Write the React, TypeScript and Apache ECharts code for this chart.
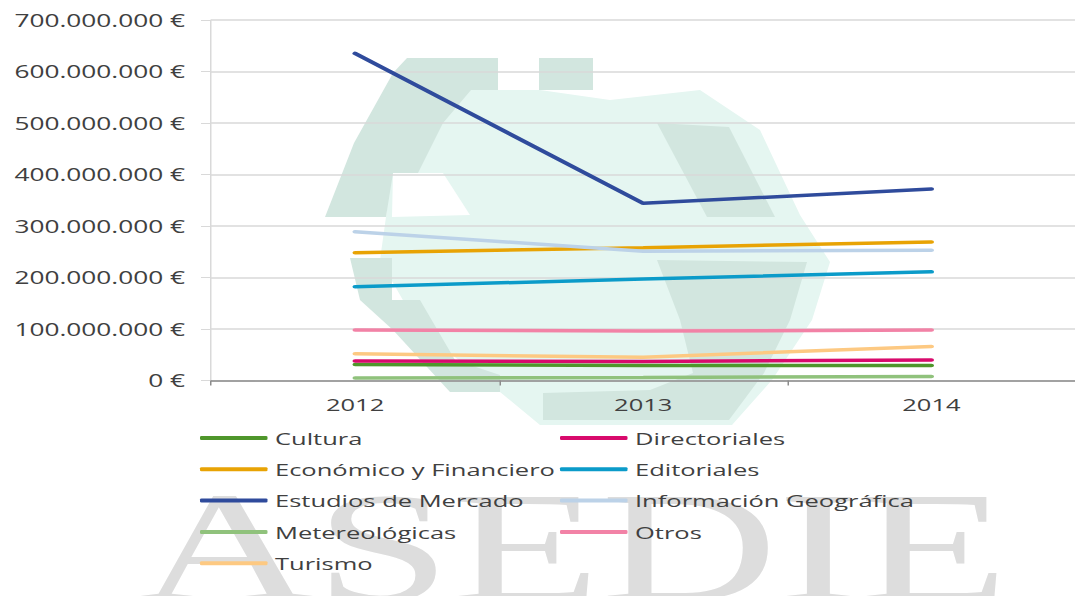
import React, { useEffect, useRef } from "react";
import * as echarts from "echarts";

const years = ["2012", "2013", "2014"];
const cultura = [31000000, 29000000, 29000000];
const directoriales = [38000000, 37000000, 40000000];
const economico = [248000000, 258000000, 269000000];
const editoriales = [182000000, 197000000, 211000000];
const estudios = [635000000, 344000000, 372000000];
const infoGeo = [289000000, 251000000, 253000000];
const meteo = [5000000, 6000000, 8000000];
const otros = [98000000, 96000000, 98000000];
const turismo = [52000000, 45000000, 66000000];

const seriesNames = [
  "Cultura",
  "Directoriales",
  "Económico y Financiero",
  "Editoriales",
  "Estudios de Mercado",
  "Información Geográfica",
  "Metereológicas",
  "Otros",
  "Turismo",
];
const seriesData = [cultura, directoriales, economico, editoriales, estudios, infoGeo, meteo, otros, turismo];
const seriesColors = ["#4f962b", "#d80a6c", "#e8a304", "#0b9bc9", "#2f4b9c", "#bcd2e8", "#90c27c", "#f282a6", "#fdc982"];
const legendCol1 = ["Cultura", "Económico y Financiero", "Estudios de Mercado", "Metereológicas", "Turismo"];
const legendCol2 = ["Directoriales", "Editoriales", "Información Geográfica", "Otros"];

const S = 1.5; // horizontal stretch of the whole picture
const W = 1075 / S;
const H = 596;
const FONT = "'Open Sans', sans-serif";

const fmt = (v: number) => String(v).replace(/\B(?=(\d{3})+(?!\d))/g, ".") + " €";

const pts = (a: number[][]) => a.map(([x, y]) => [x / S, y]);

export default function App() {
  const ref = useRef<HTMLDivElement>(null);
  useEffect(() => {
    if (!ref.current) return;
    const chart = echarts.init(ref.current, undefined, { renderer: "svg" });
    const dark = "#d2e6df";
    const light = "#e5f6f1";
    const legendBase = {
      orient: "vertical",
      top: 428,
      padding: 0,
      itemWidth: 45,
      itemHeight: 4,
      itemGap: 11.3,
      icon: "roundRect",
      textStyle: { fontSize: 17, lineHeight: 20, color: "#404040", fontFamily: FONT },
    };
    chart.setOption({
      animation: false,
      backgroundColor: "#ffffff",
      graphic: [
        { type: "polygon", z: -10, shape: { points: pts([[400, 90], [540, 90], [610, 100], [700, 90], [760, 130], [800, 215], [830, 262], [812, 320], [772, 380], [732, 425], [540, 425], [500, 392], [420, 330], [380, 260], [386, 217]]) }, style: { fill: light } },
        { type: "polygon", z: -9, shape: { points: pts([[393, 173], [443, 173], [470, 215], [392, 217]]) }, style: { fill: "#ffffff" } },
        { type: "polygon", z: -8, shape: { points: pts([[325, 217], [354, 143], [393, 73], [407, 58], [498, 58], [498, 90], [471, 90], [443, 123], [418, 173], [393, 173], [386, 217]]) }, style: { fill: dark } },
        { type: "rect", z: -8, shape: { x: 539 / S, y: 58, width: 54 / S, height: 32 }, style: { fill: dark } },
        { type: "polygon", z: -8, shape: { points: pts([[657, 123], [729, 127], [775, 217], [707, 217]]) }, style: { fill: dark } },
        { type: "polygon", z: -8, shape: { points: pts([[350, 258], [392, 258], [392, 300], [420, 300], [455, 360], [500, 375], [500, 392], [450, 392], [393, 330], [360, 300]]) }, style: { fill: dark } },
        { type: "polygon", z: -8, shape: { points: pts([[657, 260], [807, 262], [790, 320], [764, 373], [729, 420], [543, 420], [543, 393], [650, 390], [693, 373], [680, 320]]) }, style: { fill: dark } },
        {
          type: "text",
          z: -8,
          x: 138 / S,
          y: 468,
          scaleX: 1.04,
          style: {
            text: "ASEDIE",
            fontSize: 157,
            fontFamily: "'Liberation Serif', serif",
            fill: "#dddddd",
            verticalAlign: "top",
          },
        },
      ],
      grid: { left: 211 / S, right: -9 / S, top: 20, bottom: H - 380.5, containLabel: false },
      legend: [
        { ...legendBase, left: 200 / S, data: legendCol1 },
        { ...legendBase, left: 560 / S, data: legendCol2 },
      ],
      xAxis: {
        type: "category",
        data: years,
        boundaryGap: true,
        axisLine: { lineStyle: { color: "#8c8c8c", width: 1.5 } },
        axisTick: { show: true, length: 5, lineStyle: { color: "#8c8c8c" } },
        axisLabel: { fontSize: 17, color: "#404040", fontFamily: FONT, margin: 15 },
        splitLine: { show: false },
      },
      yAxis: {
        type: "value",
        min: 0,
        max: 700000000,
        interval: 100000000,
        axisLine: { show: true, lineStyle: { color: "#d9d9d9", width: 1 } },
        axisTick: { show: true, length: 10 / S, lineStyle: { color: "#d9d9d9" } },
        axisLabel: { fontSize: 17.5, color: "#404040", fontFamily: FONT, margin: 26 / S, formatter: (v: number) => fmt(v) },
        splitLine: { show: true, lineStyle: { color: "#d9d9d9", width: 1.5 } },
      },
      series: seriesNames.map((name, i) => ({
        name,
        type: "line",
        data: seriesData[i],
        symbol: "none",
        color: seriesColors[i],
        itemStyle: { color: seriesColors[i] },
        lineStyle: { color: seriesColors[i], width: 3.5, cap: "round" },
        z: 5,
      })),
    });
    return () => chart.dispose();
  }, []);
  return (
    <div
      style={{
        position: "fixed",
        left: 0,
        top: 0,
        width: 1075,
        height: H,
        overflow: "hidden",
        background: "#fff",
      }}
    >
      <div
        ref={ref}
        style={{
          width: W,
          height: H,
          transform: `scaleX(${S})`,
          transformOrigin: "0 0",
        }}
      />
    </div>
  );
}
